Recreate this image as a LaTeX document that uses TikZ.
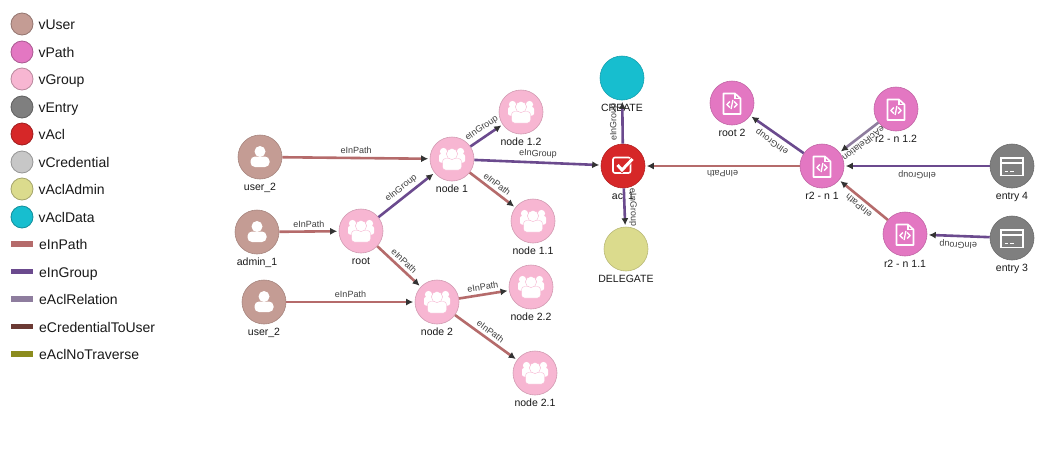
\documentclass[tikz,border=0pt]{standalone}
\usepackage{fontspec}
\setmainfont{Liberation Sans}
\usetikzlibrary{positioning,arrows.meta}

\definecolor{cUser}{HTML}{C49C94}
\definecolor{cPath}{HTML}{E377C2}
\definecolor{cGroup}{HTML}{F7B6D2}
\definecolor{cEntry}{HTML}{7F7F7F}
\definecolor{cAcl}{HTML}{D62728}
\definecolor{cCredential}{HTML}{C7C7C7}
\definecolor{cAclAdmin}{HTML}{DBDB8D}
\definecolor{cAclData}{HTML}{17BECF}
\definecolor{cInPath}{HTML}{B56B6B}
\definecolor{cInGroup}{HTML}{6B4A8E}
\definecolor{cAclRelation}{HTML}{8E7D9E}
\definecolor{cCredentialToUser}{HTML}{6B3A34}
\definecolor{cAclNoTraverse}{HTML}{8C8C1E}
\definecolor{cTip}{HTML}{333333}

\tikzset{
  vertex/.style={draw, circle, minimum size=44pt, inner sep=0pt, line width=0.6pt},
  vname/.style={font=\fontsize{10.5}{12}\selectfont, text=black!90, inner sep=0pt, text height=8pt, text depth=2.5pt},
  vuser/.style={vertex, fill=cUser, draw=cUser!85!black, label={[vname, label distance=3pt]below:#1}},
  vpath/.style={vertex, fill=cPath, draw=cPath!85!black, label={[vname, label distance=3pt]below:#1}},
  vgroup/.style={vertex, fill=cGroup, draw=cGroup!85!black, label={[vname, label distance=3pt]below:#1}},
  ventry/.style={vertex, fill=cEntry, draw=cEntry!85!black, label={[vname, label distance=3pt]below:#1}},
  vacl/.style={vertex, fill=cAcl, draw=cAcl!85!black, label={[vname, label distance=3pt]below:#1}},
  vadmin/.style={vertex, fill=cAclAdmin, draw=cAclAdmin!85!black, label={[vname, label distance=3pt]below:#1}},
  vdata/.style={vertex, fill=cAclData, draw=cAclData!85!black, label={[vname, label distance=3pt]below:#1}},
  edgebase/.style={line width=2.6pt, shorten >=1.5pt, -{Latex[length=7pt,width=7pt,color=cTip]}},
  inpath/.style={edgebase, draw=cInPath},
  ingroup/.style={edgebase, draw=cInGroup},
  aclrelation/.style={edgebase, draw=cAclRelation},
  elabel/.style={midway, above, sloped, allow upside down, inner sep=3pt, text=black!75,
    font=\fontsize{9}{10}\selectfont},
  legdot/.style={draw=#1!75!black, fill=#1, circle, minimum size=22pt, inner sep=0pt, line width=0.8pt},
  legtext/.style={inner sep=0pt, text height=10pt, text depth=3pt, yshift=-2pt, font=\fontsize{14}{16}\selectfont, text=black!90},
  % icons
  usericon/.pic={
    \fill[white] (0,-5.5) circle (5.5pt);
    \fill[white, rounded corners=4.5pt] (-9.5,10) -- (-9.5,-0.5) -- (9.5,-0.5) -- (9.5,10) -- cycle;
  },
  peopleicon/.pic={
    \fill[white] (-8.5,-7.5) circle (3.6pt) (8.5,-7.5) circle (3.6pt);
    \fill[white, rounded corners=2pt] (-13,3.5) -- (-13,-5) -- (13,-5) -- (13,3.5) -- cycle;
    \fill[white, draw=cGroup, line width=0.4pt, rounded corners=3pt] (-9.5,11) -- (-9.5,-0.5) -- (9.5,-0.5) -- (9.5,11) -- cycle;
    \fill[white, draw=cGroup, line width=0.4pt] (0,-5) circle (5.6pt);
  },
  docicon/.pic={
    \draw[white, line width=1.6pt, line join=round] (-8.5,-9.5) -- (3,-9.5) -- (8.5,-4.5) -- (8.5,11) -- (-8.5,11) -- cycle;
    \draw[white, line width=1.3pt] (3,-9.5) -- (3,-4.5) -- (8.5,-4.5);
    \draw[white, line width=1.4pt] (-2.2,-1.5) -- (-5,1.5) -- (-2.2,4.5);
    \draw[white, line width=1.4pt] (2.2,-1.5) -- (5,1.5) -- (2.2,4.5);
    \draw[white, line width=1.3pt] (0.9,-3) -- (-0.9,6);
  },
  cardicon/.pic={
    \draw[white, line width=1.4pt] (-11,-8) rectangle (11,9.5);
    \draw[white, line width=2pt] (-11,-3) -- (11,-3);
    \draw[white, line width=1.4pt] (-7.5,5.5) -- (-4,5.5) (-2,5.5) -- (2,5.5);
  },
  checkicon/.pic={
    \draw[white, line width=1.6pt, rounded corners=2pt] (-10,-8.5) rectangle (7.5,7);
    \draw[cAcl, line width=4.6pt] (-5.5,-1) -- (-1,4) -- (9.5,-7);
    \draw[white, line width=3pt] (-5.5,-1) -- (-1,4) -- (9.5,-7);
  }
}

\begin{document}
\begin{tikzpicture}[x=1pt,y=-1pt]
  \useasboundingbox[fill=white] (0,0) rectangle (1060,464);

  % legend
  \foreach \name/\col/\y in {vUser/cUser/24,vPath/cPath/52,vGroup/cGroup/79,vEntry/cEntry/107,
      vAcl/cAcl/134,vCredential/cCredential/162,vAclAdmin/cAclAdmin/189,vAclData/cAclData/217} {
    \node[legdot=\col] (leg\name) at (22,\y) {};
    \node[legtext, right=5pt of leg\name] {\name};
  }
  \foreach \name/\col/\y in {eInPath/cInPath/244,eInGroup/cInGroup/271.5,eAclRelation/cAclRelation/299,
      eCredentialToUser/cCredentialToUser/326.5,eAclNoTraverse/cAclNoTraverse/354} {
    \coordinate (from\name) at (11,\y);
    \coordinate (to\name) at (33,\y);
    \draw[draw=\col, line width=5.5pt] (from\name) -- (to\name);
    \node[legtext, right=6pt of to\name] {\name};
  }

  % left tree
  \node[vuser={user\_2}] (usera) at (260,157) {};
  \node[vuser={admin\_1}] (admin) at (257,232) {};
  \node[vuser={user\_2}] (userb) at (264,302) {};
  \node[vgroup={root}] (root) at (361,231) {};
  \node[vgroup={node 1}] (nodea) at (452,159) {};
  \node[vgroup={node 2}] (nodeb) at (437,302) {};
  \node[vgroup={node 1.2}] (nodeab) at (521,112) {};
  \node[vgroup={node 1.1}] (nodeaa) at (533,221) {};
  \node[vgroup={node 2.2}] (nodebb) at (531,287) {};
  \node[vgroup={node 2.1}] (nodeba) at (535,373) {};

  % acl in the middle
  \node[vdata={CREATE}] (create) at (622,78) {};
  \node[vacl={acl 1}] (acl) at (623,166) {};
  \node[vadmin={DELEGATE}] (delegate) at (626,249) {};

  % right tree
  \node[vpath={root 2}] (rootb) at (732,103) {};
  \node[vpath={r2 - n 1.2}] (rnab) at (896,109) {};
  \node[vpath={r2 - n 1}] (rna) at (822,166) {};
  \node[vpath={r2 - n 1.1}] (rnaa) at (905,234) {};
  \node[ventry={entry 4}] (entryd) at (1012,166) {};
  \node[ventry={entry 3}] (entryc) at (1012,238) {};

  % icons
  \foreach \v in {usera,admin,userb} \pic at (\v) {usericon};
  \foreach \v in {root,nodea,nodeb,nodeab,nodeaa,nodebb,nodeba} \pic at (\v) {peopleicon};
  \foreach \v in {rootb,rnab,rna,rnaa} \pic at (\v) {docicon};
  \foreach \v in {entryd,entryc} \pic at (\v) {cardicon};
  \pic at (acl) {checkicon};

  \draw[inpath] (usera) -- (nodea) node[elabel] {eInPath};
  \draw[inpath] (admin) -- (root) node[elabel] {eInPath};
  \draw[inpath] (userb) -- (nodeb) node[elabel] {eInPath};
  \draw[ingroup] (root) -- (nodea) node[elabel] {eInGroup};
  \draw[inpath] (root) -- (nodeb) node[elabel] {eInPath};
  \draw[ingroup] (nodea) -- (nodeab) node[elabel] {eInGroup};
  \draw[inpath] (nodea) -- (nodeaa) node[elabel] {eInPath};
  \draw[ingroup] (nodea) -- (acl) node[elabel] {eInGroup};
  \draw[inpath] (nodeb) -- (nodebb) node[elabel] {eInPath};
  \draw[inpath] (nodeb) -- (nodeba) node[elabel] {eInPath};
  \draw[ingroup] (acl) -- (create) node[elabel] {eInGroup};
  \draw[ingroup] (acl) -- (delegate) node[elabel] {eInGroup};
  \draw[inpath] (rna) -- (acl) node[elabel] {eInPath};
  \draw[ingroup] (rna) -- (rootb) node[elabel] {eInGroup};
  \draw[aclrelation] (rnab) -- (rna) node[elabel] {eAclRelation};
  \draw[ingroup] (entryd) -- (rna) node[elabel] {eInGroup};
  \draw[inpath] (rnaa) -- (rna) node[elabel] {eInPath};
  \draw[ingroup] (entryc) -- (rnaa) node[elabel] {eInGroup};
\end{tikzpicture}
\end{document}
